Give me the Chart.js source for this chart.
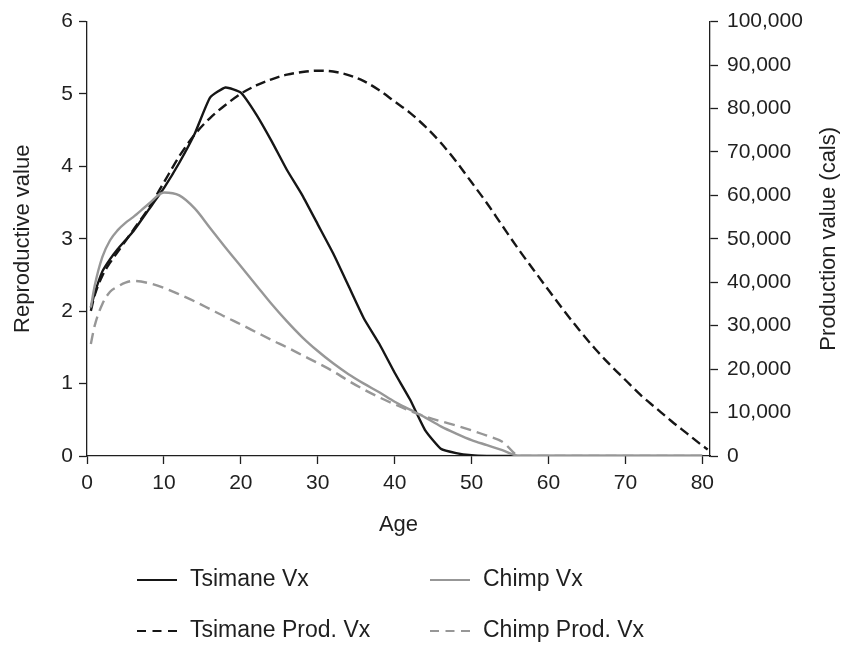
<!DOCTYPE html>
<html>
<head>
<meta charset="utf-8">
<script src="https://cdn.jsdelivr.net/npm/chart.js@4/dist/chart.umd.min.js"></script>
<style>
  html, body { margin: 0; padding: 0; background: #fff; }
  #wrap { width: 844px; height: 647px; }
</style>
</head>
<body>
<div id="wrap"><canvas id="vx-chart"></canvas></div>
<script>
// age in years
var ages = [0.5, 1, 2, 3, 4, 5, 6, 8, 10, 12, 14, 16, 18, 20, 22, 24, 26, 28, 30, 32,
  34, 36, 38, 40, 42, 44, 46, 48, 50, 52, 54, 56.3, 58, 60, 62, 64, 66, 68, 70, 72,
  74, 76, 78, 80, 80.7];

// reproductive value (left axis)
var tsimaneVx = [2.05, 2.25, 2.55, 2.72, 2.86, 2.98, 3.1, 3.4, 3.7, 4.05, 4.45, 4.95, 5.09, 5.02, 4.72, 4.35, 3.95, 3.6, 3.2, 2.8,
  2.35, 1.9, 1.55, 1.15, 0.78, 0.35, 0.1, 0.04, 0.01, 0, 0, 0, 0, 0, 0, 0, 0, 0, 0, 0,
  0, 0, 0, 0, null];
var chimpVx = [2.05, 2.35, 2.75, 2.98, 3.12, 3.22, 3.3, 3.48, 3.64, 3.6, 3.42, 3.15, 2.88, 2.62, 2.36, 2.1, 1.86, 1.64, 1.45, 1.28,
  1.13, 1.0, 0.88, 0.75, 0.64, 0.53, 0.41, 0.31, 0.22, 0.15, 0.08, 0, 0, 0, 0, 0, 0, 0, 0, 0,
  0, 0, 0, 0, null];

// production value in cals (right axis)
var tsimaneProd = [33400, 37000, 41500, 44500, 47000, 49500, 52000, 57000, 63000, 69000, 74000, 77800, 80800, 83400, 85300, 86700, 87800, 88400, 88700, 88500,
  87700, 86300, 84200, 81600, 79000, 75800, 72100, 67800, 63000, 58200, 53000, 47100, 43000, 38200, 33500, 29000, 24800, 21000, 17500, 14000,
  11000, 8000, 5200, 2400, 1500];
var chimpProd = [25800, 30000, 35000, 37800, 39000, 39900, 40300, 39800, 38700, 37200, 35600, 33800, 32000, 30300, 28500, 26700, 25000, 23200, 21400, 19500,
  17300, 15300, 13500, 11900, 10400, 9100, 8000, 7000, 5900, 4700, 3300, 0, 0, 0, 0, 0, 0, 0, 0, 0,
  0, 0, 0, 0, null];

var leftTicks = [0, 1, 2, 3, 4, 5, 6];
var rightTicks = [0, 10000, 20000, 30000, 40000, 50000, 60000, 70000, 80000, 90000, 100000];
var ageTicks = [0, 10, 20, 30, 40, 50, 60, 70, 80];

var FONT = '"Liberation Sans", Arial, Helvetica, sans-serif';
var INK = '#1f1f1f';
var DARK = '#161616';
var GREY = '#979797';

function points(vals) {
  return ages.map(function (a, i) { return { x: a, y: vals[i] }; });
}

function axisGrid() {
  return {
    display: true,
    drawOnChartArea: false,
    drawTicks: true,
    tickLength: 8,
    tickColor: INK,
    tickWidth: 1.3
  };
}

// two-column legend under the axis
var gridLegend = {
  id: 'gridLegend',
  afterDraw: function (chart) {
    var ctx = chart.ctx;
    var slots = [[137, 580], [430, 580], [137, 631], [430, 631]];
    ctx.save();
    chart.data.datasets.forEach(function (ds, i) {
      var x = slots[i][0], y = slots[i][1];
      ctx.strokeStyle = ds.borderColor;
      ctx.lineWidth = 2.2;
      ctx.setLineDash(ds.borderDash.length ? [9, 6.5] : []);
      ctx.beginPath();
      ctx.moveTo(x, y);
      ctx.lineTo(x + 40, y);
      ctx.stroke();
      ctx.setLineDash([]);
      ctx.fillStyle = INK;
      ctx.font = '23px ' + FONT;
      ctx.textBaseline = 'middle';
      ctx.textAlign = 'left';
      ctx.fillText(ds.label, x + 53, y);
    });
    ctx.restore();
  }
};

// right axis title, read bottom to top like the left one
var rightTitle = {
  id: 'rightTitle',
  afterDraw: function (chart) {
    var ctx = chart.ctx;
    var area = chart.chartArea;
    ctx.save();
    ctx.translate(829, (area.top + area.bottom) / 2);
    ctx.rotate(-Math.PI / 2);
    ctx.fillStyle = INK;
    ctx.font = '22px ' + FONT;
    ctx.textAlign = 'center';
    ctx.textBaseline = 'middle';
    ctx.fillText('Production value (cals)', 0, 0);
    ctx.restore();
  }
};

var ctx = document.getElementById('vx-chart');
var vxChart = new Chart(ctx, {
  type: 'line',
  data: {
    datasets: [{
      label: 'Tsimane Vx',
      data: points(tsimaneVx),
      yAxisID: 'y',
      borderColor: DARK,
      borderWidth: 2.4,
      borderDash: [],
      tension: 0.15,
      order: 3
    }, {
      label: 'Chimp Vx',
      data: points(chimpVx),
      yAxisID: 'y',
      borderColor: GREY,
      borderWidth: 2.4,
      borderDash: [],
      cubicInterpolationMode: 'monotone',
      order: 1
    }, {
      label: 'Tsimane Prod. Vx',
      data: points(tsimaneProd),
      yAxisID: 'y2',
      borderColor: DARK,
      borderWidth: 2.4,
      borderDash: [10, 5],
      cubicInterpolationMode: 'monotone',
      order: 4
    }, {
      label: 'Chimp Prod. Vx',
      data: points(chimpProd),
      yAxisID: 'y2',
      borderColor: GREY,
      borderWidth: 2.4,
      borderDash: [11, 6],
      cubicInterpolationMode: 'monotone',
      order: 2
    }]
  },
  options: {
    responsive: true,
    maintainAspectRatio: false,
    animation: false,
    layout: { padding: { top: 19, left: 0, right: 0, bottom: 109 } },
    elements: { point: { radius: 0 } },
    plugins: {
      legend: { display: false },
      tooltip: { enabled: false }
    },
    scales: {
      x: {
        type: 'linear',
        min: 0,
        max: 81,
        afterBuildTicks: function (scale) {
          scale.ticks = ageTicks.map(function (v) { return { value: v }; });
        },
        afterFit: function (scale) { scale.height = 82; },
        border: { display: true, color: INK, width: 1.3 },
        grid: axisGrid(),
        ticks: { color: INK, font: { family: FONT, size: 21 }, padding: 7, maxRotation: 0 },
        title: { display: true, text: 'Age', color: INK, font: { family: FONT, size: 22 }, padding: { top: 0, bottom: 0 } }
      },
      y: {
        position: 'left',
        min: 0,
        max: 6,
        afterBuildTicks: function (scale) {
          scale.ticks = leftTicks.map(function (v) { return { value: v }; });
        },
        afterFit: function (scale) { scale.width = 87; },
        border: { display: true, color: INK, width: 1.3 },
        grid: axisGrid(),
        ticks: { color: INK, font: { family: FONT, size: 21 }, padding: 6 },
        title: { display: true, text: 'Reproductive value', color: INK, font: { family: FONT, size: 22 }, padding: { top: 10, bottom: 0 } }
      },
      y2: {
        position: 'right',
        min: 0,
        max: 100000,
        afterBuildTicks: function (scale) {
          scale.ticks = rightTicks.map(function (v) { return { value: v }; });
        },
        afterFit: function (scale) { scale.width = 134; },
        border: { display: true, color: INK, width: 1.3 },
        grid: axisGrid(),
        ticks: {
          color: INK,
          font: { family: FONT, size: 21 },
          padding: 9,
          callback: function (v) { return v.toLocaleString('en-US'); }
        }
      }
    }
  },
  plugins: [gridLegend, rightTitle]
});
</script>
</body>
</html>
